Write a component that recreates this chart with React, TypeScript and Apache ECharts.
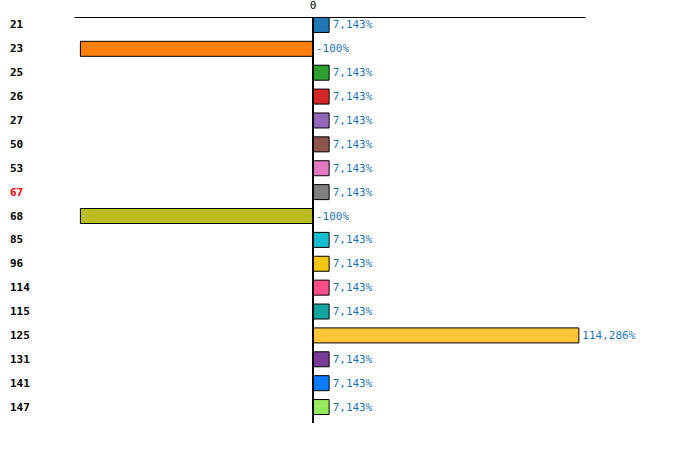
import React, { useEffect, useRef } from "react";
import * as echarts from "echarts";

const categories = ["21", "23", "25", "26", "27", "50", "53", "67", "68", "85", "96", "114", "115", "125", "131", "141", "147"];
const values = [7.143, -100, 7.143, 7.143, 7.143, 7.143, 7.143, 7.143, -100, 7.143, 7.143, 7.143, 7.143, 114.286, 7.143, 7.143, 7.143];
const colors = ["#1f77b4", "#ff7f0e", "#2ca02c", "#d62728", "#9467bd", "#8c564b", "#e377c2", "#7f7f7f", "#bcbd22", "#17becf", "#f2c511", "#ff4f8a", "#12a5a0", "#ffc53a", "#7a3b98", "#0a7dff", "#95eb5c"];
const highlighted = ["67"];

export default function App() {
  const ref = useRef<HTMLDivElement>(null);
  useEffect(() => {
    document.body.style.margin = "0";
    const chart = echarts.init(ref.current!, null, { renderer: "svg" });
    const mono = "DejaVu Sans Mono";
    chart.setOption({
      animation: false,
      backgroundColor: "#ffffff",
      grid: { left: 75, width: 510, top: 15, height: 408, containLabel: false },
      xAxis: {
        type: "value",
        position: "top",
        min: -102.1,
        max: 116.7,
        splitLine: { show: false },
        axisTick: { show: false },
        axisLine: { show: true, onZero: false, lineStyle: { color: "#000", width: 1 } },
        axisLabel: {
          margin: 6,
          color: "#000",
          fontFamily: mono,
          fontSize: 11,
          showMinLabel: false,
          showMaxLabel: false,
          formatter: (v: number) => (v === 0 ? "0" : ""),
        },
      },
      yAxis: {
        type: "category",
        inverse: true,
        data: categories,
        axisLine: { show: false, onZero: false },
        axisTick: { show: false },
        splitLine: { show: false },
        axisLabel: {
          align: "left",
          margin: 65,
          fontFamily: mono,
          fontWeight: "bold",
          fontSize: 11,
          lineHeight: 8,
          formatter: (v: string) => v + "\n ",
          color: (v: string) => (highlighted.includes(v) ? "#ff0000" : "#000000"),
        },
      },
      series: [
        {
          type: "bar",
          barWidth: 16,
          barGap: "0%",
          data: values.map((v, i) => ({
            value: v,
            itemStyle: { color: colors[i], borderColor: "#000", borderWidth: 1 },
          })),
          label: {
            show: true,
            position: "right",
            distance: 3,
            color: "#1f77b4",
            fontFamily: mono,
            fontSize: 11,
            formatter: (p: any) => String(p.value).replace(".", ",") + "%",
          },
          markLine: {
            silent: true,
            symbol: ["none", "none"],
            label: { show: false },
            lineStyle: { color: "#000", width: 2, type: "solid" },
            data: [{ xAxis: 0 }],
          },
        },
        {
          type: "bar",
          barWidth: 8,
          barGap: "0%",
          data: values.map(() => "-"),
        },
      ],
    });
    return () => chart.dispose();
  }, []);
  return <div ref={ref} style={{ width: 700, height: 453 }} />;
}
